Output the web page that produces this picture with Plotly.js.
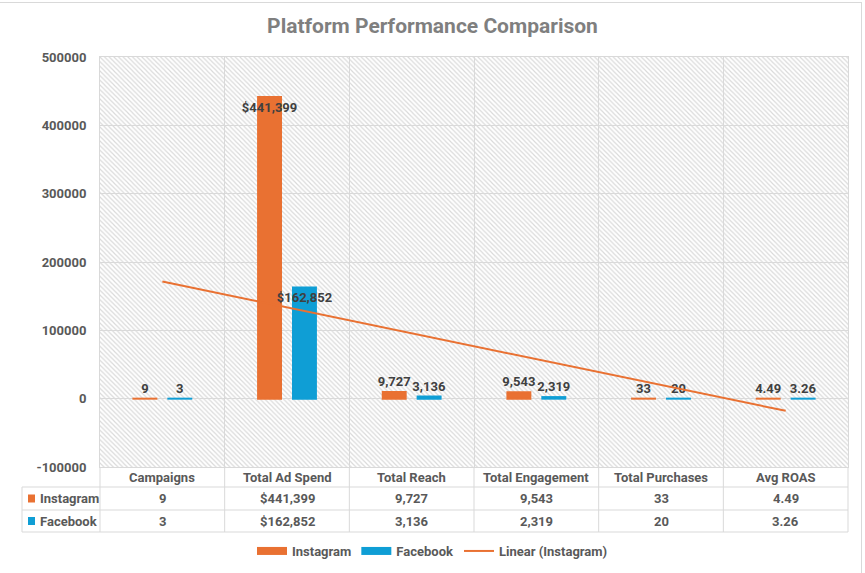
<!DOCTYPE html>
<html>
<head>
<meta charset="utf-8">
<script src="https://cdn.plot.ly/plotly-3.0.1.min.js"></script>
<style>
  html, body { margin: 0; padding: 0; background: #ffffff; }
  #wrap { position: relative; width: 865px; height: 573px; overflow: hidden; }
  #chart { position: absolute; left: 0; top: 0; width: 865px; height: 573px; }
  #frame { position: absolute; left: -2px; top: 2px; width: 864px; height: 640px; border: 1px solid #d9d9d9; box-sizing: border-box; pointer-events: none; }
</style>
</head>
<body>
<div id="wrap">
  <div id="chart"></div>
  <div id="frame"></div>
</div>
<script>
// ---- data ----
const categories = ['Campaigns', 'Total Ad Spend', 'Total Reach', 'Total Engagement', 'Total Purchases', 'Avg ROAS'];
const instagram = [9, 441399, 9727, 9543, 33, 4.49];
const facebook = [3, 162852, 3136, 2319, 20, 3.26];
const instagramLabels = ['9', '$441,399', '9,727', '9,543', '33', '4.49'];
const facebookLabels = ['3', '$162,852', '3,136', '2,319', '20', '3.26'];
const yTickVals = [-100000, 0, 100000, 200000, 300000, 400000, 500000];
const yTickText = ['-100000', '0', '100000', '200000', '300000', '400000', '500000'];
const seriesNames = ['Instagram', 'Facebook', 'Linear (Instagram)'];

// ---- styles ----
const ORANGE = '#E97132';
const BLUE = '#0F9ED5';
const GRID = '#d9d9d9';
const TXT = '#595959';
const LBL = '#404040';
const FONT = 'Roboto, "Liberation Sans", Arial, sans-serif';

// ---- geometry (page pixels) ----
const W = 865, H = 573;
const M = { l: 100, r: 17, t: 57, b: 106, autoexpand: false };
const plotW = W - M.l - M.r, plotH = H - M.t - M.b;
const px2x = px => (px - M.l) / plotW;
const px2y = py => (H - M.b - py) / plotH;
const tableLeftPx = 22;
const rowLinesPx = [487, 510, 532];      // header bottom, row 1 bottom, row 2 bottom
const rowCentersPx = [477, 498.5, 521];  // header, Instagram row, Facebook row
const plotBottomPx = H - M.b;

const yMin = yTickVals[0], yMax = yTickVals[yTickVals.length - 1];
const nCat = categories.length;
const idx = categories.map((_, i) => i);
const bounds = categories.concat(['']).map((_, i) => i - 0.5);

// linear trendline (least squares on Instagram series, Excel x = 1..n)
const xs = idx.map(i => i + 1);
const mx = xs.reduce((a, b) => a + b, 0) / nCat;
const my = instagram.reduce((a, b) => a + b, 0) / nCat;
let sxy = 0, sxx = 0;
for (let i = 0; i < nCat; i++) { sxy += (xs[i] - mx) * (instagram[i] - my); sxx += (xs[i] - mx) * (xs[i] - mx); }
const slope = sxy / sxx;
const intercept = my - slope * mx;
const trendY = xs.map(x => intercept + slope * x);

const labelFont = { family: FONT, size: 13, color: LBL, weight: 'bold' };
const tableFont = { family: FONT, size: 13, color: TXT, weight: 'bold' };

const hatch = {
  type: 'bar', x: idx, y: idx.map(() => yMax - yMin), base: yMin, width: 1,
  xaxis: 'x', yaxis: 'y', showlegend: false, hoverinfo: 'skip',
  marker: { color: 'rgba(0,0,0,0)', line: { width: 0 },
            pattern: { shape: '\\', fgcolor: '#dadada', bgcolor: 'rgba(0,0,0,0)', size: 3.3, solidity: 0.36 } }
};

function barTrace(vals, labels, color, name) {
  return {
    type: 'bar', x: idx, y: vals, name: name, xaxis: 'x2', yaxis: 'y',
    marker: { color: color, line: { width: 2, color: color } },
    text: labels, textposition: vals.map(v => v > 100000 ? 'inside' : 'outside'),
    insidetextanchor: 'end', textangle: 0, constraintext: 'none', cliponaxis: false,
    textfont: labelFont, insidetextfont: labelFont, outsidetextfont: labelFont,
    showlegend: false, hoverinfo: 'skip'
  };
}

const trend = {
  type: 'scatter', mode: 'lines', x: idx, y: trendY, xaxis: 'x2', yaxis: 'y',
  name: seriesNames[2], line: { color: ORANGE, width: 2 }, showlegend: false, hoverinfo: 'skip'
};

function legendDummy(name, color, width) {
  return { type: 'scatter', mode: 'lines', x: [null], y: [null], xaxis: 'x2', yaxis: 'y',
           name: name, line: { color: color, width: width }, hoverinfo: 'skip' };
}

// ---- data table (shapes + annotations, below the plot area) ----
const shapes = [];
const annotations = [];
const lineStyle = { color: GRID, width: 1 };
rowLinesPx.forEach(py => shapes.push({ type: 'line', xref: 'paper', yref: 'paper',
  x0: px2x(tableLeftPx), x1: 1, y0: px2y(py), y1: px2y(py), line: lineStyle }));
idx.concat([nCat]).forEach(i => shapes.push({ type: 'line', xref: 'paper', yref: 'paper',
  x0: i / nCat, x1: i / nCat, y0: px2y(plotBottomPx), y1: px2y(rowLinesPx[2]), line: lineStyle }));
shapes.push({ type: 'line', xref: 'paper', yref: 'paper', x0: px2x(tableLeftPx), x1: px2x(tableLeftPx),
  y0: px2y(rowLinesPx[0]), y1: px2y(rowLinesPx[2]), line: lineStyle });

categories.forEach((c, i) => annotations.push({ xref: 'paper', yref: 'paper', x: (i + 0.5) / nCat,
  y: px2y(rowCentersPx[0]), text: c, showarrow: false, xanchor: 'center', yanchor: 'middle', font: tableFont }));
[instagramLabels, facebookLabels].forEach((labels, r) => labels.forEach((t, i) =>
  annotations.push({ xref: 'paper', yref: 'paper', x: (i + 0.5) / nCat, y: px2y(rowCentersPx[r + 1]),
    text: t, showarrow: false, xanchor: 'center', yanchor: 'middle', font: tableFont })));
[ORANGE, BLUE].forEach((col, r) => {
  const cy = rowCentersPx[r + 1];
  shapes.push({ type: 'rect', xref: 'paper', yref: 'paper', x0: px2x(28), x1: px2x(35),
    y0: px2y(cy + 4), y1: px2y(cy - 4), fillcolor: col, line: { width: 0 } });
  annotations.push({ xref: 'paper', yref: 'paper', x: px2x(38), y: px2y(cy), text: seriesNames[r],
    showarrow: false, xanchor: 'left', yanchor: 'middle', font: tableFont });
});

const data = [
  hatch,
  barTrace(instagram, instagramLabels, ORANGE, seriesNames[0]),
  barTrace(facebook, facebookLabels, BLUE, seriesNames[1]),
  trend,
  legendDummy(seriesNames[0], ORANGE, 8),
  legendDummy(seriesNames[1], BLUE, 8),
  legendDummy(seriesNames[2], ORANGE, 2)
];

const layout = {
  width: W, height: H,
  margin: M,
  paper_bgcolor: 'rgba(0,0,0,0)', plot_bgcolor: 'white',
  font: { family: FONT, color: TXT },
  title: { text: 'Platform Performance Comparison', x: 0.5, xref: 'container', xanchor: 'center',
           y: 1 - 26 / H, yref: 'container', yanchor: 'middle',
           font: { family: FONT, size: 21, color: '#7f7f7f', weight: 'bold' } },
  barmode: 'group', bargap: 0.44, bargroupgap: 0.343,
  xaxis: { range: [-0.5, 5.5], tickvals: bounds, showticklabels: false,
           showgrid: true, gridcolor: GRID, gridwidth: 1, zeroline: false, ticks: '',
           showline: true, mirror: true, linecolor: GRID, linewidth: 1, fixedrange: true },
  xaxis2: { overlaying: 'x', range: [-0.5, 5.5], visible: false, fixedrange: true },
  yaxis: { range: [yMin, yMax], tickvals: yTickVals, ticktext: yTickText,
           showgrid: true, gridcolor: GRID, gridwidth: 1, zeroline: false, ticks: '',
           ticklabelstandoff: 10,
           showline: true, mirror: true, linecolor: GRID, linewidth: 1,
           tickfont: { family: FONT, size: 13, color: TXT, weight: 'bold' }, fixedrange: true },
  shapes: shapes,
  annotations: annotations,
  showlegend: true,
  legend: { orientation: 'h', xref: 'container', x: 0.5, xanchor: 'center',
            yref: 'container', y: 1 - 551 / H, yanchor: 'middle',
            font: { family: FONT, size: 13, color: TXT, weight: 'bold' }, bgcolor: 'rgba(0,0,0,0)' },
  hovermode: false
};

Plotly.newPlot('chart', data, layout, { displayModeBar: false, staticPlot: true });
</script>
</body>
</html>
